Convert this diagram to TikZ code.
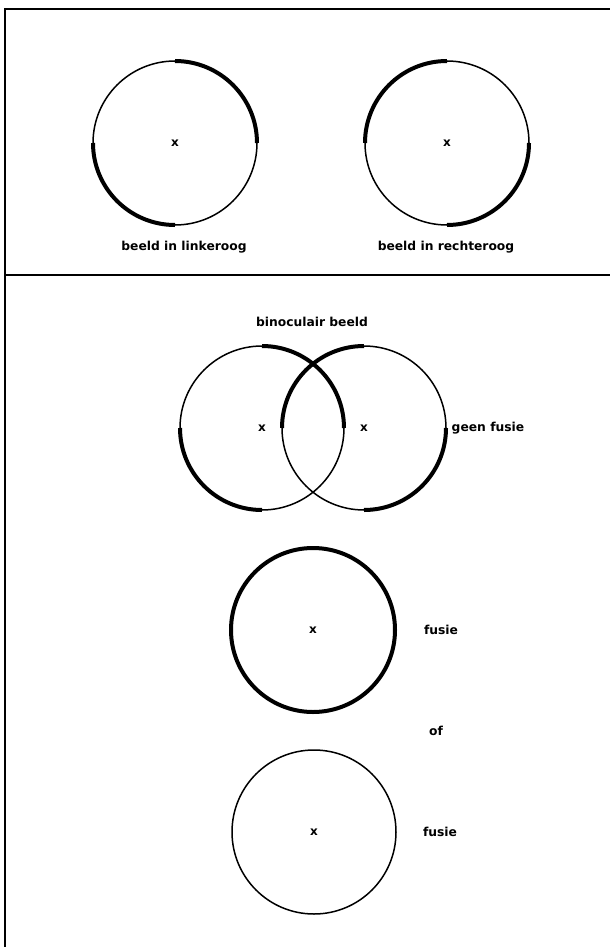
\documentclass[tikz,border=0pt]{standalone}
\usepackage{fontspec}
\setmainfont{DejaVu Sans}
\usepackage{tikz}
\usetikzlibrary{positioning}

\begin{document}
\begin{tikzpicture}[x=1pt, y=1pt,
        thinring/.style={line width=1.5pt},
        thickarc/.style={line width=4pt},
        lbl/.style={font=\fontsize{12.3}{14}\selectfont\bfseries, inner sep=1pt},
        crossmark/.style={font=\fontsize{12}{12}\selectfont\bfseries, inner sep=0pt}]
        \useasboundingbox (0,0) rectangle (610,-947);
        % frame and divider
        \draw[line width=1.2pt] (5,-947) -- (5,-9) -- (610,-9);
        \draw[line width=1.2pt] (5,-275) -- (610,-275);
        % centres
        \coordinate (linksoog) at (175,-143);
        \coordinate (rechtsoog) at (447,-143);
        \coordinate (binlinks) at (262,-428);
        \coordinate (binrechts) at (364,-428);
        \coordinate (fusieA) at (313,-630);
        \coordinate (fusieB) at (314,-832);
        \def\r{82}
        % thin circles
        \foreach \c in {linksoog, rechtsoog, binlinks, binrechts, fusieB} {
            \draw[thinring] (\c) circle[radius=\r];
            \node[crossmark] (x-\c) at (\c) {x};
        }
        % thick arcs, left eye
        \foreach \c in {linksoog, binlinks} {
            \draw[thickarc] (\c) ++(0:\r) arc[start angle=0, end angle=90, radius=\r];
            \draw[thickarc] (\c) ++(180:\r) arc[start angle=180, end angle=270, radius=\r];
        }
        % thick arcs, right eye
        \foreach \c in {rechtsoog, binrechts} {
            \draw[thickarc] (\c) ++(90:\r) arc[start angle=90, end angle=180, radius=\r];
            \draw[thickarc] (\c) ++(270:\r) arc[start angle=270, end angle=360, radius=\r];
        }
        % fused image
        \draw[thickarc] (fusieA) circle[radius=\r];
        \node[crossmark] (x-fusieA) at (fusieA) {x};
        % labels
        \node[lbl] (links) at (184,-247) {beeld in linkeroog};
        \node[lbl] (rechts) at (446,-247) {beeld in rechteroog};
        \node[lbl] (binoc) at (312,-322) {binoculair beeld};
        \node[lbl] (geen) at (488,-428) {geen fusie};
        \node[lbl] (fus1) at (441,-630) {fusie};
        \node[lbl] (of) at (436,-731) {of};
        \node[lbl] (fus2) at (440,-832) {fusie};
    \end{tikzpicture}
\end{document}
